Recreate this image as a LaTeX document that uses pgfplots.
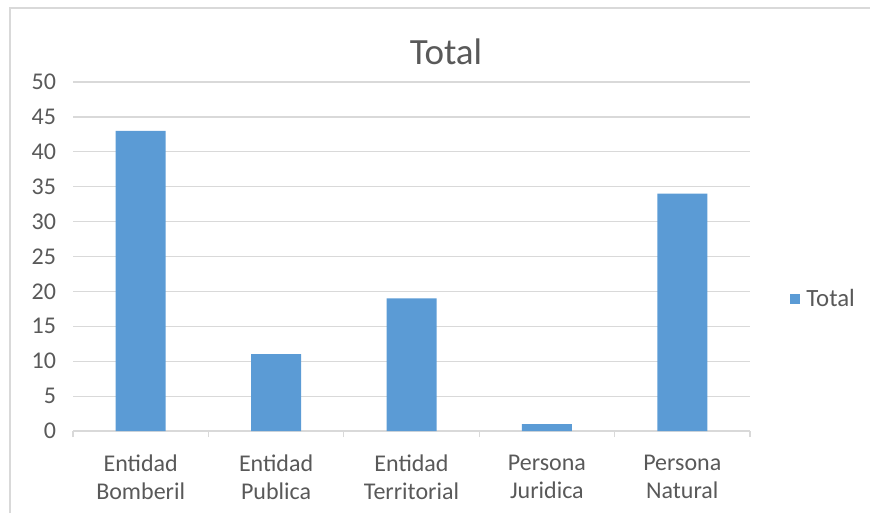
\documentclass[border=0pt]{standalone}
\usepackage{pgfplots}
\pgfplotsset{compat=1.18}
\usepackage{fontspec}
\setmainfont{Carlito}
\definecolor{barblue}{HTML}{5B9BD5}
\definecolor{txtgray}{HTML}{595959}
\definecolor{gridgray}{HTML}{D9D9D9}
\begin{document}
\begin{tikzpicture}[x=1pt,y=1pt]
\useasboundingbox (0,0) rectangle (435,-256.5);
% chart frame
\draw[gridgray,line width=0.6pt] (5,-256.5) -- (5,-4) -- (436,-4);
% title
\node[txtgray,font=\fontsize{18.5}{20}\selectfont] at (223,-26) {Total};
\begin{axis}[
  at={(36.5pt,-215.5pt)}, anchor=south west,
  scale only axis, width=338.5pt, height=174.5pt,
  xmin=0, xmax=5, ymin=0, ymax=50,
  ytick={0,5,...,50},
  xtick={0.5,1.5,2.5,3.5,4.5},
  xticklabels={{Entidad\\Bomberil},{Entidad\\Publica},{Entidad\\Territorial},{Persona\\Juridica},{Persona\\Natural}},
  minor xtick={0,1,2,3,4,5},
  tick pos=left,
  major tick length=0pt,
  minor tick length=3pt,
  tick align=outside,
  minor tick style={draw=gridgray,line width=0.6pt},
  axis line style={draw=none},
  ymajorgrids, grid style={draw=gridgray,line width=0.6pt},
  every tick label/.append style={txtgray,font=\fontsize{12}{14}\selectfont},
  /pgf/number format/assume math mode=true,
  xticklabel style={align=center,yshift=-8.5pt},
  yticklabel style={xshift=-5pt},
  legend style={at={(1.059,0.378)},anchor=west,draw=none,fill=none,
    font=\fontsize{12.4}{14}\selectfont,text=txtgray,inner sep=0pt,
    /tikz/every even column/.append style={column sep=0pt}},
  legend image code/.code={\fill[barblue] (0pt,-2.5pt) rectangle (5pt,2.5pt);},
]
\addplot[ybar, bar width=25pt, fill=barblue, draw=none, bar shift=0pt]
  coordinates {(0.5,43) (1.5,11) (2.5,19) (3.5,1) (4.5,34)};
\addlegendentry{\hspace{1pt}Total}
\end{axis}
\end{tikzpicture}
\end{document}
